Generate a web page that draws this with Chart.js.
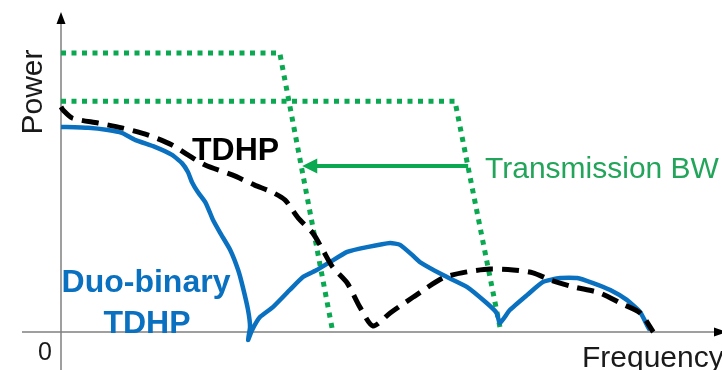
<!DOCTYPE html>
<html>
<head>
<meta charset="utf-8">
<script src="https://cdn.jsdelivr.net/npm/chart.js@4.4.1/dist/chart.umd.min.js"></script>
<style>
  html, body { margin: 0; padding: 0; background: #ffffff; }
  #wrap { width: 722px; height: 370px; position: relative; }
</style>
</head>
<body>
<div id="wrap"><canvas id="c" width="722" height="370"></canvas></div>
<script>
// Normalised frequency (0-100) and power (0-100) samples of each spectrum.
const tdhpFreq  = [0, 0.3, 1.7, 5.6, 9.2, 13.2, 16.8, 19.2, 21.8, 25.9, 29.3, 31.9, 33.9, 35.9, 38.1, 39.6, 41.1, 43.3, 45.2, 47.2, 49.8, 53.3, 57.8, 61.4, 64.9, 68.4, 71.4, 74.0, 77.5, 81.5, 84.6, 87.6, 89.6];
const tdhpPower = [70.8, 69.8, 67.3, 65.7, 64.2, 61.9, 58.8, 55.7, 52.5, 49.4, 46.2, 44.0, 41.5, 35.8, 31.1, 25.8, 20.4, 15.4, 7.9, 1.9, 6.0, 11.0, 17.0, 18.9, 19.8, 19.5, 18.6, 16.4, 14.2, 12.3, 9.1, 6.0, 0];

const duoFreq  = [0, 4.1, 7.1, 9.2, 11.2, 14.2, 16.8, 18.3, 19.2, 19.8, 20.7, 21.8, 22.5, 23.0, 24.1, 25.6, 26.8, 27.5, 28.3, 28.6, 28.3, 28.9, 30.1, 32.1, 34.6, 36.6, 38.7, 40.7, 43.3, 46.3, 49.8, 51.3, 53.3, 54.3, 57.8, 61.4, 64.4, 65.9, 66.4, 67.9, 70.5, 72.9, 75.5, 78.1, 80.5, 83.1, 85.6, 87.6, 88.8, 89.1];
const duoPower = [64.5, 64.2, 63.5, 62.6, 60.4, 58.2, 55.7, 53.1, 50.3, 47.2, 44.0, 40.9, 37.7, 35.2, 31.1, 25.8, 19.5, 14.2, 6.9, 1.6, -2.5, 0.6, 4.7, 7.9, 13.2, 17.3, 19.5, 22.0, 25.2, 26.7, 28.0, 27.4, 23.9, 22.0, 17.9, 14.2, 9.1, 6.0, 2.8, 6.9, 11.6, 15.7, 17.0, 17.0, 15.4, 13.2, 10.1, 6.3, 1.6, 0.6];

// Transmission bandwidth masks (narrow and wide).
const maskNarrowFreq  = [0, 33.1, 41.0];
const maskNarrowPower = [87.7, 87.7, 1.3];
const maskWideFreq    = [0, 59.6, 66.4];
const maskWidePower   = [72.6, 72.6, 1.6];

const toXY = (xs, ys) => xs.map((x, i) => ({ x, y: ys[i] }));

const GREEN = '#0aa850';
const BLUE = '#0a70c0';
const FONT = '"Liberation Sans", Arial, sans-serif';

const annotations = {
  id: 'annotations',
  beforeDatasetsDraw(chart) {
    const { ctx, scales: { x, y } } = chart;
    const x0 = x.getPixelForValue(0);
    const y0 = y.getPixelForValue(0);
    ctx.save();
    ctx.strokeStyle = '#808080';
    ctx.lineWidth = 1.5;
    ctx.beginPath();
    ctx.moveTo(22, y0); ctx.lineTo(716, y0);
    ctx.moveTo(x0, 370); ctx.lineTo(x0, 20);
    ctx.stroke();
    ctx.fillStyle = '#000';
    ctx.beginPath();
    ctx.moveTo(x0, 12); ctx.lineTo(x0 - 4.5, 24); ctx.lineTo(x0 + 4.5, 24); ctx.closePath();
    ctx.fill();
    ctx.beginPath();
    ctx.moveTo(727, y0); ctx.lineTo(714, y0 - 4.5); ctx.lineTo(714, y0 + 4.5); ctx.closePath();
    ctx.fill();
    ctx.restore();
  },
  afterDatasetsDraw(chart) {
    const { ctx, scales: { x, y } } = chart;
    ctx.save();
    // bandwidth arrow
    const ay = y.getPixelForValue(52.2);
    const tip = x.getPixelForValue(36.5);
    const tail = x.getPixelForValue(61.6);
    ctx.strokeStyle = GREEN;
    ctx.fillStyle = GREEN;
    ctx.lineWidth = 4;
    ctx.beginPath();
    ctx.moveTo(tail, ay); ctx.lineTo(tip + 12, ay);
    ctx.stroke();
    ctx.beginPath();
    ctx.moveTo(tip, ay); ctx.lineTo(tip + 15, ay - 7.5); ctx.lineTo(tip + 15, ay + 7.5); ctx.closePath();
    ctx.fill();

    ctx.textBaseline = 'alphabetic';
    ctx.fillStyle = '#22a55a';
    ctx.font = '30px ' + FONT;
    ctx.textAlign = 'left';
    ctx.fillText('Transmission BW', 485, 178);

    ctx.fillStyle = '#000';
    ctx.font = 'bold 32px ' + FONT;
    ctx.fillText('TDHP', 192, 160);

    ctx.fillStyle = BLUE;
    ctx.textAlign = 'center';
    ctx.fillText('Duo-binary', 146, 292);
    ctx.fillText('TDHP', 147, 333);

    ctx.fillStyle = '#1a1a1a';
    ctx.font = '25px ' + FONT;
    ctx.fillText('0', 45, 360);
    ctx.font = '30px ' + FONT;
    ctx.textAlign = 'left';
    ctx.fillText('Frequency', 582, 367);

    ctx.translate(42, 92);
    ctx.rotate(-Math.PI / 2);
    ctx.textAlign = 'center';
    ctx.fillText('Power', 0, 0);
    ctx.restore();
  }
};

new Chart(document.getElementById('c'), {
  type: 'line',
  data: {
    datasets: [
      {
        label: 'TDHP',
        data: toXY(tdhpFreq, tdhpPower),
        borderColor: '#000',
        borderWidth: 5,
        borderDash: [17, 9],
        tension: 0.25,
        pointRadius: 0,
        clip: false,
        order: 1
      },
      {
        label: 'Duo-binary TDHP',
        data: toXY(duoFreq, duoPower),
        borderColor: BLUE,
        borderWidth: 4.5,
        tension: 0.15,
        pointRadius: 0,
        clip: false,
        order: 2
      },
      {
        label: 'BW narrow',
        data: toXY(maskNarrowFreq, maskNarrowPower),
        borderColor: GREEN,
        borderWidth: 5,
        borderDash: [5, 5.5],
        borderCapStyle: 'butt',
        tension: 0,
        pointRadius: 0,
        clip: false,
        order: 3
      },
      {
        label: 'BW wide',
        data: toXY(maskWideFreq, maskWidePower),
        borderColor: GREEN,
        borderWidth: 5,
        borderDash: [5, 5.5],
        borderCapStyle: 'butt',
        tension: 0,
        pointRadius: 0,
        clip: false,
        order: 3
      }
    ]
  },
  options: {
    responsive: false,
    animation: false,
    layout: { padding: { left: 61, right: 0, top: 14, bottom: 38 } },
    plugins: { legend: { display: false }, tooltip: { enabled: false } },
    scales: {
      x: { type: 'linear', min: 0, max: 100, display: false },
      y: { type: 'linear', min: 0, max: 100, display: false }
    }
  },
  plugins: [annotations]
});
</script>
</body>
</html>
